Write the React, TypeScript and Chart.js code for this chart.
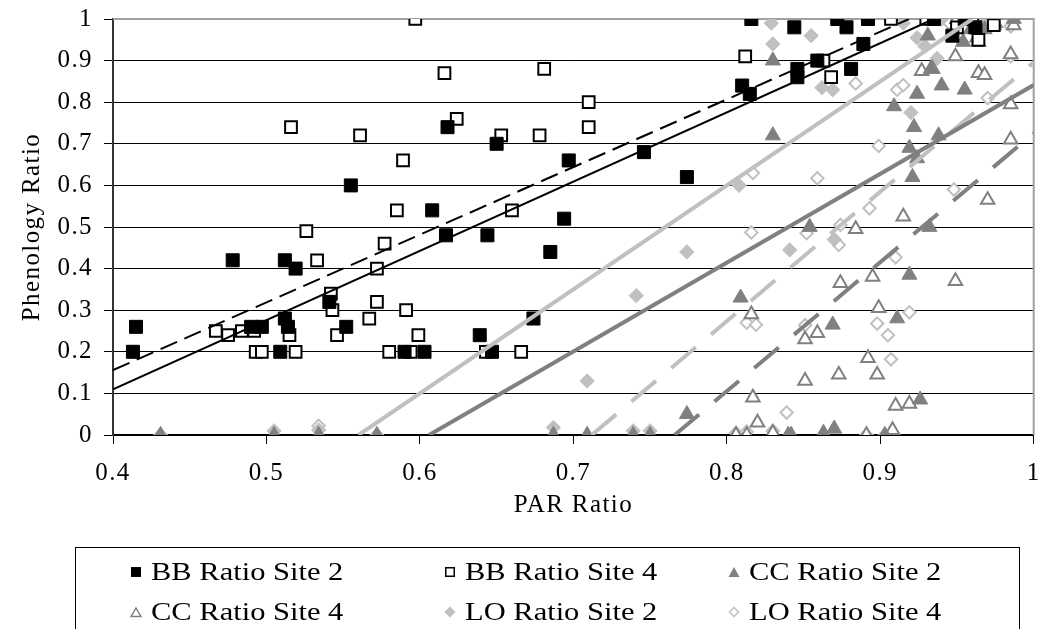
import React, { useEffect, useRef } from 'react';
import { Chart, registerables } from 'chart.js';

Chart.register(...registerables);

// ---------- data ----------
const bb2X = [0.413, 0.415, 0.478, 0.490, 0.497, 0.509, 0.512, 0.512, 0.514, 0.519, 0.541, 0.552, 0.555, 0.590, 0.603, 0.608, 0.617, 0.618, 0.639, 0.644, 0.647, 0.650, 0.674, 0.685, 0.694, 0.697, 0.746, 0.774, 0.810, 0.815, 0.816, 0.844, 0.846, 0.846, 0.859, 0.872, 0.878, 0.881, 0.889, 0.892, 0.935, 0.947, 0.955, 0.962];
const bb2Y = [0.20, 0.26, 0.42, 0.26, 0.26, 0.20, 0.42, 0.28, 0.26, 0.40, 0.32, 0.26, 0.60, 0.20, 0.20, 0.54, 0.48, 0.74, 0.24, 0.48, 0.20, 0.70, 0.28, 0.44, 0.52, 0.66, 0.68, 0.62, 0.84, 0.82, 1.00, 0.98, 0.88, 0.86, 0.90, 1.00, 0.98, 0.88, 0.94, 1.00, 1.00, 0.96, 1.00, 0.98];

const bb4X = [0.467, 0.475, 0.484, 0.492, 0.493, 0.497, 0.515, 0.516, 0.519, 0.526, 0.533, 0.542, 0.543, 0.546, 0.561, 0.567, 0.572, 0.572, 0.577, 0.580, 0.585, 0.589, 0.591, 0.594, 0.597, 0.599, 0.616, 0.624, 0.643, 0.653, 0.660, 0.666, 0.678, 0.681, 0.710, 0.710, 0.812, 0.863, 0.868, 0.907, 0.930, 0.950, 0.960, 0.964, 0.974];
const bb4Y = [0.25, 0.24, 0.25, 0.25, 0.20, 0.20, 0.24, 0.74, 0.20, 0.49, 0.42, 0.34, 0.30, 0.24, 0.72, 0.28, 0.40, 0.32, 0.46, 0.20, 0.54, 0.66, 0.30, 0.20, 1.00, 0.24, 0.87, 0.76, 0.20, 0.72, 0.54, 0.20, 0.72, 0.88, 0.80, 0.74, 0.91, 0.90, 0.86, 1.00, 1.00, 0.98, 1.00, 0.95, 0.985];

const cc2X = [0.431, 0.505, 0.534, 0.572, 0.687, 0.709, 0.739, 0.750, 0.774, 0.809, 0.830, 0.830, 0.840, 0.842, 0.854, 0.863, 0.869, 0.870, 0.903, 0.909, 0.911, 0.919, 0.919, 0.921, 0.922, 0.924, 0.924, 0.926, 0.931, 0.932, 0.933, 0.938, 0.940, 0.954, 0.955, 0.959, 0.963, 0.968, 0.975, 0.987];
const cc2Y = [0, 0, 0, 0, 0, 0, 0, 0, 0.05, 0.33, 0.72, 0.90, 0, 0, 0.50, 0.005, 0.265, 0.015, 0, 0.79, 0.28, 0.385, 0.69, 0.62, 0.74, 0.665, 0.82, 0.085, 0.96, 0.50, 0.88, 0.72, 0.84, 0.945, 0.83, 0.975, 0.955, 0.975, 0.99, 1.0];

const cc4X = [0.806, 0.813, 0.817, 0.816, 0.820, 0.830, 0.851, 0.851, 0.859, 0.873, 0.874, 0.884, 0.891, 0.892, 0.895, 0.898, 0.899, 0.908, 0.910, 0.915, 0.919, 0.927, 0.934, 0.949, 0.949, 0.950, 0.960, 0.964, 0.964, 0.968, 0.970, 0.974, 0.985, 0.985, 0.985, 0.987];
const cc4Y = [0, 0, 0.09, 0.29, 0.03, 0.005, 0.13, 0.23, 0.245, 0.145, 0.365, 0.495, 0, 0.185, 0.38, 0.145, 0.305, 0.012, 0.07, 0.525, 0.075, 0.875, 0.88, 0.37, 0.91, 1.0, 1.0, 0.87, 0.945, 0.865, 0.565, 0.985, 0.71, 0.795, 0.915, 0.985];

const lo2X = [0.431, 0.505, 0.534, 0.572, 0.687, 0.709, 0.739, 0.741, 0.750, 0.774, 0.808, 0.829, 0.830, 0.841, 0.855, 0.862, 0.869, 0.870, 0.909, 0.915, 0.920, 0.924, 0.929, 0.937, 0.930, 0.940, 0.950, 0.960, 0.970];
const lo2Y = [0, 0.01, 0.012, 0, 0.018, 0.13, 0.01, 0.335, 0.01, 0.44, 0.60, 0.99, 0.94, 0.445, 0.96, 0.835, 0.83, 0.47, 1.0, 0.99, 0.775, 0.955, 0.935, 0.905, 1.0, 1.0, 1.0, 1.0, 1.0];

const lo4X = [0.534, 0.806, 0.813, 0.813, 0.816, 0.817, 0.819, 0.830, 0.839, 0.851, 0.852, 0.859, 0.873, 0.874, 0.884, 0.891, 0.893, 0.898, 0.899, 0.903, 0.905, 0.907, 0.910, 0.911, 0.915, 0.919, 0.945, 0.948, 0.955, 0.965, 0.970, 0.985, 0.985];
const lo4Y = [0.022, 0.005, 0.008, 0.27, 0.487, 0.63, 0.265, 0.01, 0.054, 0.264, 0.485, 0.617, 0.457, 0.505, 0.845, 0, 0.545, 0.268, 0.695, 0, 0.24, 0.182, 0.427, 0.83, 0.841, 0.295, 0.99, 0.59, 1.0, 0.99, 0.81, 0.91, 0.982];

// linear trendlines (slope, intercept), order: BB2, BB4, CC2, CC4, LO2, LO4
const trendSlopes = [1.664, 1.627, 2.135, 3.10, 2.50, 3.11];
const trendIntercepts = [-0.5556, -0.4948, -1.2938, -2.3746, -1.40, -2.2143];

const seriesNames = ['BB Ratio Site 2', 'BB Ratio Site 4', 'CC Ratio Site 2', 'CC Ratio Site 4', 'LO Ratio Site 2', 'LO Ratio Site 4'];

const xTickLabels = ['0.4', '0.5', '0.6', '0.7', '0.8', '0.9', '1'];
const yTickLabels = ['0', '0.1', '0.2', '0.3', '0.4', '0.5', '0.6', '0.7', '0.8', '0.9', '1'];

const X_MIN = 0.4;
const X_MAX = 1;
const Y_MIN = 0;
const Y_MAX = 1;

const BLACK = '#000000';
const DARK = '#808080';
const LIGHT = '#c0c0c0';
const FONT = '"Liberation Serif"';

function pts(xs: number[], ys: number[]) {
  return xs.map((x, i) => ({ x, y: ys[i] }));
}

function trend(m: number, b: number) {
  const x0 = Math.max(X_MIN, (Y_MIN - b) / m);
  const x1 = Math.min(X_MAX, (Y_MAX - b) / m);
  return [
    { x: x0, y: m * x0 + b },
    { x: x1, y: m * x1 + b },
  ];
}

const plotBorder = {
  id: 'plotBorder',
  beforeDatasetsDraw(chart: any) {
    const { ctx, chartArea } = chart;
    const { left, right, top, bottom } = chartArea;
    ctx.save();
    ctx.strokeStyle = '#a0a0a0';
    ctx.lineWidth = 2;
    ctx.beginPath();
    ctx.moveTo(left, top);
    ctx.lineTo(right, top);
    ctx.lineTo(right, bottom);
    ctx.stroke();
    ctx.restore();
  },
};

// slightly wider text tracking, like the reference's wide serif text
const textTracking = {
  id: 'textTracking',
  beforeUpdate(chart: any) { chart.ctx.letterSpacing = '1.4px'; },
  beforeDraw(chart: any) { chart.ctx.letterSpacing = '1.4px'; },
};

function LegendMarker({ kind }: { kind: number }) {
  const s = 12;
  if (kind === 0) return <svg width={s} height={s}><rect x={1} y={1} width={10} height={10} fill={BLACK} /></svg>;
  if (kind === 1) return <svg width={s} height={s}><rect x={1.75} y={1.75} width={8.5} height={8.5} fill="#fff" stroke={BLACK} strokeWidth={1.5} /></svg>;
  if (kind === 2) return <svg width={s} height={s}><polygon points="6,1 11.5,11 0.5,11" fill={DARK} /></svg>;
  if (kind === 3) return <svg width={s} height={s}><polygon points="6,2 10.8,10.5 1.2,10.5" fill="#fff" stroke={DARK} strokeWidth={1.5} /></svg>;
  if (kind === 4) return <svg width={s} height={s}><polygon points="6,0.5 11.5,6 6,11.5 0.5,6" fill={LIGHT} /></svg>;
  return <svg width={s} height={s}><polygon points="6,1.5 10.5,6 6,10.5 1.5,6" fill="#fff" stroke={LIGHT} strokeWidth={1.5} /></svg>;
}

const legendCols = [136, 450, 734];
const legendRows = [572, 612];

export default function App() {
  const ref = useRef<HTMLCanvasElement | null>(null);

  useEffect(() => {
    if (!ref.current) return;
    const trendStyles = [
      { color: BLACK, width: 2, dash: [] as number[] },
      { color: BLACK, width: 2, dash: [18, 8] },
      { color: DARK, width: 4, dash: [] as number[] },
      { color: DARK, width: 4, dash: [32, 20] },
      { color: LIGHT, width: 4, dash: [] as number[] },
      { color: LIGHT, width: 4, dash: [32, 20] },
    ];
    const trendSets = trendSlopes.map((m, i) => ({
      type: 'line' as const,
      label: seriesNames[i] + ' trend',
      data: trend(m, trendIntercepts[i]),
      borderColor: trendStyles[i].color,
      borderWidth: trendStyles[i].width,
      borderDash: trendStyles[i].dash,
      pointRadius: 0,
      fill: false,
      showLine: true,
      order: 0,
    }));

    const labelFor = (labels: string[], v: number) => {
      const hit = labels.find((l) => Math.abs(parseFloat(l) - v) < 1e-6);
      return hit === undefined ? '' : hit;
    };

    const chart = new Chart(ref.current, {
      type: 'scatter',
      data: {
        datasets: [
          ...trendSets,
          { label: seriesNames[0], data: pts(bb2X, bb2Y), pointStyle: 'rect', pointRadius: 9.2, backgroundColor: BLACK, borderColor: BLACK, borderWidth: 1, order: 1 },
          { label: seriesNames[1], data: pts(bb4X, bb4Y), pointStyle: 'rect', pointRadius: 8.3, backgroundColor: '#ffffff', borderColor: BLACK, borderWidth: 2, order: 2 },
          { label: seriesNames[2], data: pts(cc2X, cc2Y), pointStyle: 'triangle', pointRadius: 8.7, backgroundColor: DARK, borderColor: DARK, borderWidth: 1, order: 3 },
          { label: seriesNames[3], data: pts(cc4X, cc4Y), pointStyle: 'triangle', pointRadius: 7.8, backgroundColor: '#ffffff', borderColor: DARK, borderWidth: 2, order: 4 },
          { label: seriesNames[4], data: pts(lo2X, lo2Y), pointStyle: 'rectRot', pointRadius: 7.2, backgroundColor: LIGHT, borderColor: LIGHT, borderWidth: 1, order: 5 },
          { label: seriesNames[5], data: pts(lo4X, lo4Y), pointStyle: 'rectRot', pointRadius: 6.2, backgroundColor: '#ffffff', borderColor: LIGHT, borderWidth: 2, order: 6 },
        ] as any,
      },
      options: {
        responsive: false,
        animation: false,
        events: [],
        layout: { padding: { top: 19, right: 7, left: 0, bottom: 0 } },
        plugins: {
          legend: { display: false },
          tooltip: { enabled: false },
        },
        scales: {
          x: {
            type: 'linear',
            position: 'bottom',
            min: X_MIN,
            max: X_MAX,
            ticks: {
              stepSize: 0.1, color: BLACK, font: { family: FONT, size: 25 }, padding: 14, maxRotation: 0, autoSkip: false,
              callback: (v: any) => labelFor(xTickLabels, Number(v)),
            },
            grid: { drawOnChartArea: false, drawTicks: true, tickLength: 9, color: BLACK, tickColor: BLACK },
            border: { display: true, color: BLACK, width: 2 },
            title: { display: true, text: 'PAR Ratio', color: BLACK, font: { family: FONT, size: 25 }, padding: { top: 0, bottom: 109 } },
            afterFit: (s: any) => { s.height = 194; s.paddingLeft = 0; s.paddingRight = 0; },
          },
          y: {
            type: 'linear',
            min: Y_MIN,
            max: Y_MAX,
            ticks: {
              stepSize: 0.1, color: BLACK, font: { family: FONT, size: 25 }, padding: 11,
              callback: (v: any) => labelFor(yTickLabels, Number(v)),
            },
            grid: {
              color: (c: any) => (c.tick && c.tick.value === 1 ? '#a0a0a0' : BLACK),
              lineWidth: 1,
              drawTicks: true,
              tickLength: 9,
              tickColor: BLACK,
            },
            border: { display: true, color: '#333333', width: 2 },
            title: { display: true, text: 'Phenology Ratio', color: BLACK, font: { family: FONT, size: 25 }, padding: { top: 17, bottom: 0 } },
            afterFit: (s: any) => { s.width = 113; s.paddingTop = 0; s.paddingBottom = 0; },
          },
        },
      } as any,
      plugins: [textTracking, plotBorder],
    });
    return () => chart.destroy();
  }, []);

  return (
    <div style={{ position: 'fixed', left: 0, top: 0, width: 1044, height: 629, overflow: 'hidden', background: '#fff' }}>
      <canvas ref={ref} width={1044} height={629} style={{ position: 'absolute', left: 0, top: 0, width: 1044, height: 629 }} />
      <div
        style={{
          position: 'absolute', left: 75, top: 547, width: 945, height: 120,
          border: '1px solid #000', boxSizing: 'border-box',
        }}
      />
      {seriesNames.map((name, i) => {
        const col = legendCols[i % 3];
        const row = legendRows[Math.floor(i / 3)];
        return (
          <div key={name} style={{ position: 'absolute', left: col - 6, top: row - 16, height: 32, display: 'flex', alignItems: 'center', whiteSpace: 'nowrap' }}>
            <LegendMarker kind={i} />
            <span style={{ marginLeft: 9, fontFamily: FONT, fontSize: 25, color: '#000', display: 'inline-block', transform: 'scaleX(1.22)', transformOrigin: 'left center', lineHeight: '32px' }}>{name}</span>
          </div>
        );
      })}
    </div>
  );
}
